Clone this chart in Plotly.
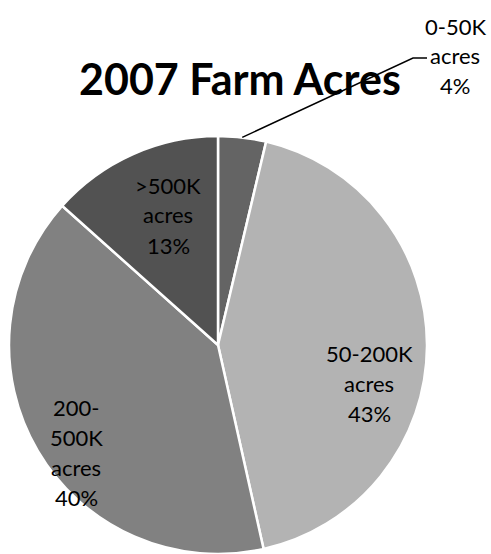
import math
import plotly.graph_objects as go

# ---- data ----
categories = ["0-50K acres", "50-200K acres", "200-500K acres", ">500K acres"]
label_lines = [["0-50K", "acres"], ["50-200K", "acres"], ["200-", "500K", "acres"], [">500K", "acres"]]
values = [3.7, 42.8, 40.1, 13.4]
colors = ["#646464", "#b3b3b3", "#818181", "#525252"]
title_text = "2007 Farm Acres"

# ---- layout constants ----
W, H = 491, 554
CX, CY, R = 218, 345, 209          # pie centre / radius in pixels (y from top)
FONT = "Lato"
LINE_H = 30

# label centres in pixels (x, y from top)
label_pos = [(455, 56), (369, 383), (76, 452), (168, 215)]

fig = go.Figure(go.Pie(
    labels=categories,
    values=values,
    sort=False,
    direction="clockwise",
    rotation=0,
    marker=dict(colors=colors, line=dict(color="white", width=2.5)),
    textinfo="none",
    hoverinfo="label+percent",
    showlegend=False,
    domain=dict(x=[(CX - R) / W, (CX + R) / W], y=[0, 2 * R / H]),
))

total = sum(values)
pcts = [round(v / total * 100) for v in values]

for lines, p, (px, py) in zip(label_lines, pcts, label_pos):
    all_lines = lines + [f"{p}%"]
    n = len(all_lines)
    for i, ln in enumerate(all_lines):
        yy = py + (i - (n - 1) / 2) * LINE_H
        fig.add_annotation(
            x=px / W, y=1 - yy / H, xref="paper", yref="paper",
            text=ln, showarrow=False,
            font=dict(family=FONT, size=22, color="#000000"),
            align="center", xanchor="center", yanchor="middle",
        )

# leader line for first slice
mid = values[0] / total * math.pi
sx = CX + R * math.sin(mid)
sy = CY - R * math.cos(mid)
ex, ey = 413, 58
hx = 427
fig.add_shape(
    type="path", xref="paper", yref="paper",
    path=f"M {sx/W} {1-sy/H} L {ex/W} {1-ey/H} L {hx/W} {1-ey/H}",
    line=dict(color="black", width=1.5),
)

fig.add_annotation(
    x=240 / W, y=1 - 78 / H, xref="paper", yref="paper",
    text=f"<b>{title_text}</b>", showarrow=False,
    font=dict(family=FONT, size=43, color="#000000"),
    xanchor="center", yanchor="middle",
)

fig.update_layout(
    width=W, height=H,
    margin=dict(l=0, r=0, t=0, b=0),
    paper_bgcolor="white", plot_bgcolor="white",
)

fig.write_html("out.html", config={"displayModeBar": False},
               post_script="document.body.style.margin='0';")
